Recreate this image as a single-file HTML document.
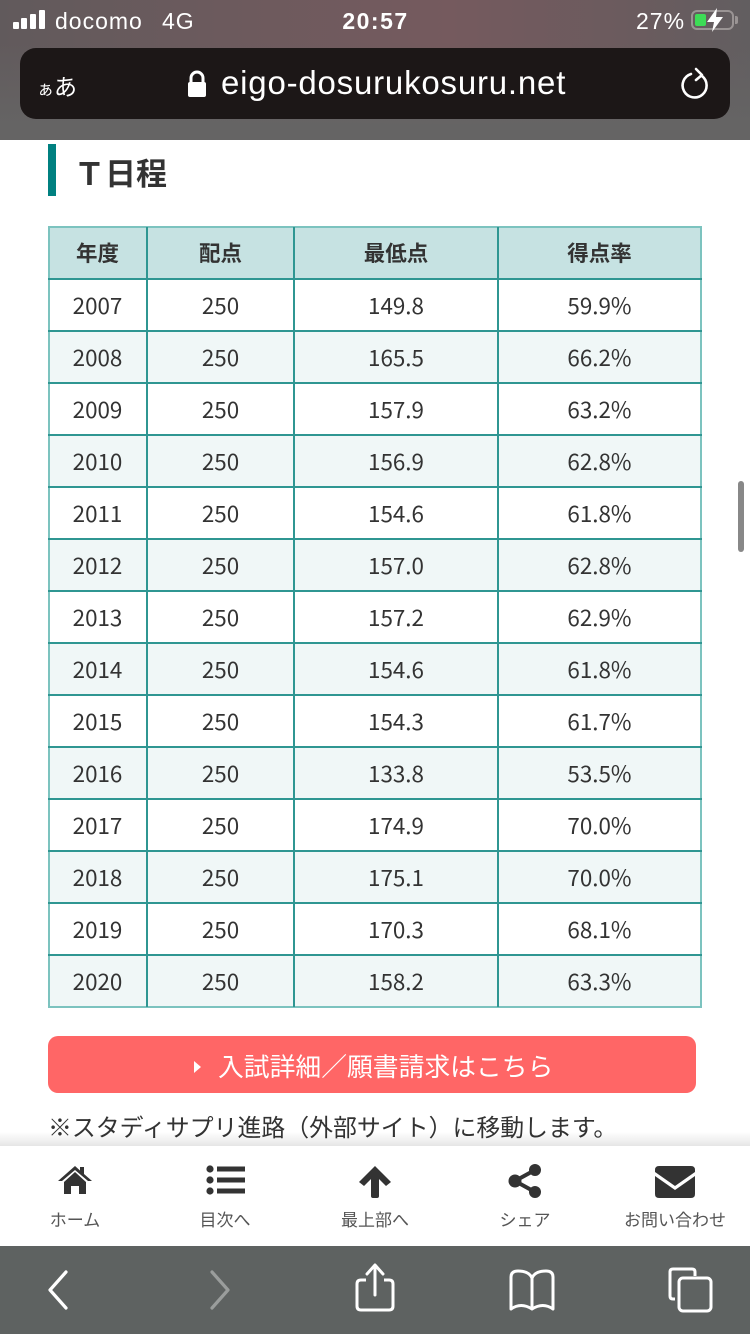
<!DOCTYPE html>
<html><head><meta charset="utf-8">
<style>
*{margin:0;padding:0;box-sizing:border-box}
html,body{width:750px;height:1334px;overflow:hidden;background:#fff}
body{position:relative;font-family:"Liberation Sans","Noto Sans CJK JP",sans-serif;color:#333}
.abs{position:absolute}
#top{left:0;top:0;width:750px;height:140px;background:linear-gradient(180deg,rgba(102,102,102,0) 0%,rgba(102,102,102,0) 30%,#656464 90%),linear-gradient(90deg,#615a5c 0%,#6c5a5d 30%,#755a5e 60%,#6a5b5e 85%,#625e60 100%)}
.st{color:#fff;font-size:23px;top:7px;line-height:28px;letter-spacing:1px}
#url{left:20px;top:48px;width:710px;height:71px;background:#1c1717;border-radius:16px}
.tbl{font-family:"Noto Sans CJK JP",sans-serif}
.cell{position:absolute;text-align:center;font-size:22.4px;color:#333;line-height:52px;height:52px}
.hd{font-size:21.5px;font-weight:bold}
.hl{position:absolute;left:48px;width:654px;height:2px;background:#2f9692}
.vl{position:absolute;top:227px;width:2px;height:780px;background:#2f9692}
.navl{position:absolute;top:1206px;width:150px;text-align:center;font-size:17px;color:#555;font-family:"Noto Sans CJK JP",sans-serif}
</style></head><body>
<div id="top" class="abs"></div>
<!-- signal -->
<div class="abs" style="left:13px;top:22px;width:6px;height:7px;background:#fff;border-radius:1px"></div>
<div class="abs" style="left:21px;top:18px;width:6px;height:11px;background:#fff;border-radius:1px"></div>
<div class="abs" style="left:30px;top:14px;width:6px;height:15px;background:#fff;border-radius:1px"></div>
<div class="abs" style="left:39px;top:10px;width:6px;height:19px;background:#fff;border-radius:1px"></div>
<div class="abs st" style="left:55px">docomo</div>
<div class="abs st" style="left:162px">4G</div>
<div class="abs st" style="left:336px;font-weight:bold;width:79px;text-align:center;letter-spacing:1.5px">20:57</div>
<div class="abs st" style="left:636px">27%</div>
<div class="abs" style="left:691px;top:10px;width:43px;height:20px;border:2px solid #9a9494;border-radius:6px"></div>
<div class="abs" style="left:735px;top:16px;width:3px;height:8px;background:#9a9494;border-radius:0 2px 2px 0"></div>
<div class="abs" style="left:695px;top:14px;width:11px;height:12px;background:#3ddc56;border-radius:2px"></div>
<svg class="abs" style="left:704px;top:7px" width="22" height="26" viewBox="0 0 22 26"><path d="M13 1 L3 15 L10 15 L8 25 L19 10 L12 10 Z" fill="#fff"/></svg>
<!-- url bar -->
<div id="url" class="abs"></div>
<div class="abs" style="left:37px;top:71px;color:#fff;font-size:23px;font-family:'Noto Sans CJK JP',sans-serif;line-height:28px"><span style="font-size:17px">ぁ</span>あ</div>
<svg class="abs" style="left:187px;top:70px" width="20" height="28" viewBox="0 0 20 28"><path d="M4 13 V8 a6 6 0 0 1 12 0 V13" fill="none" stroke="#fff" stroke-width="3"/><rect x="1" y="12" width="18" height="15" rx="2" fill="#fff"/></svg>
<div class="abs" style="left:221px;top:63px;color:#fff;font-size:33px;line-height:40px;letter-spacing:0.8px;white-space:nowrap">eigo-dosurukosuru.net</div>
<svg class="abs" style="left:680px;top:66px" width="34" height="38" viewBox="0 0 34 38"><path d="M22 10 A12 12 0 1 1 11 8" fill="none" stroke="#fff" stroke-width="2.6" stroke-linecap="round"/><path d="M16 3 L22 9 L16 14" fill="none" stroke="#fff" stroke-width="2.6" stroke-linecap="round" stroke-linejoin="round"/></svg>

<!-- heading -->
<div class="abs" style="left:48px;top:144px;width:8px;height:52px;background:#008080"></div>
<div class="abs" style="left:74px;top:151px;font-size:31px;font-weight:bold;line-height:42px;color:#333;font-family:'Noto Sans CJK JP',sans-serif;white-space:nowrap">Ｔ日程</div>

<!-- table -->
<div class="tbl">
<div class="abs" style="left:48px;top:227px;width:654px;height:52px;background:#c6e2e2"></div>
<div class="abs" style="left:48px;top:331px;width:654px;height:52px;background:#f0f7f7"></div>
<div class="abs" style="left:48px;top:435px;width:654px;height:52px;background:#f0f7f7"></div>
<div class="abs" style="left:48px;top:539px;width:654px;height:52px;background:#f0f7f7"></div>
<div class="abs" style="left:48px;top:643px;width:654px;height:52px;background:#f0f7f7"></div>
<div class="abs" style="left:48px;top:747px;width:654px;height:52px;background:#f0f7f7"></div>
<div class="abs" style="left:48px;top:851px;width:654px;height:52px;background:#f0f7f7"></div>
<div class="abs" style="left:48px;top:955px;width:654px;height:52px;background:#f0f7f7"></div>
<!-- outer borders -->
<div class="abs" style="left:48px;top:226px;width:654px;height:2px;background:#7cc3bf"></div>
<div class="abs" style="left:48px;top:226px;width:2px;height:782px;background:#7cc3bf"></div>
<div class="abs" style="left:700px;top:226px;width:2px;height:782px;background:#7cc3bf"></div>
<div class="abs" style="left:48px;top:1006px;width:654px;height:2px;background:#7cc3bf"></div>
<!-- horizontal lines -->
<div class="hl" style="top:278px"></div><div class="hl" style="top:330px"></div><div class="hl" style="top:382px"></div><div class="hl" style="top:434px"></div><div class="hl" style="top:486px"></div><div class="hl" style="top:538px"></div><div class="hl" style="top:590px"></div><div class="hl" style="top:642px"></div><div class="hl" style="top:694px"></div><div class="hl" style="top:746px"></div><div class="hl" style="top:798px"></div><div class="hl" style="top:850px"></div><div class="hl" style="top:902px"></div><div class="hl" style="top:954px"></div>
<div class="vl" style="left:146px"></div><div class="vl" style="left:293px"></div><div class="vl" style="left:497px"></div>
<!-- header -->
<div class="cell hd" style="left:48px;width:99px;top:227px">年度</div>
<div class="cell hd" style="left:147px;width:147px;top:227px">配点</div>
<div class="cell hd" style="left:294px;width:204px;top:227px">最低点</div>
<div class="cell hd" style="left:498px;width:203px;top:227px">得点率</div>
</div>
<div class="tbl">
<div class="cell" style="left:48px;width:99px;top:279px">2007</div><div class="cell" style="left:147px;width:147px;top:279px">250</div><div class="cell" style="left:294px;width:204px;top:279px">149.8</div><div class="cell" style="left:498px;width:203px;top:279px">59.9%</div>
<div class="cell" style="left:48px;width:99px;top:331px">2008</div><div class="cell" style="left:147px;width:147px;top:331px">250</div><div class="cell" style="left:294px;width:204px;top:331px">165.5</div><div class="cell" style="left:498px;width:203px;top:331px">66.2%</div>
<div class="cell" style="left:48px;width:99px;top:383px">2009</div><div class="cell" style="left:147px;width:147px;top:383px">250</div><div class="cell" style="left:294px;width:204px;top:383px">157.9</div><div class="cell" style="left:498px;width:203px;top:383px">63.2%</div>
<div class="cell" style="left:48px;width:99px;top:435px">2010</div><div class="cell" style="left:147px;width:147px;top:435px">250</div><div class="cell" style="left:294px;width:204px;top:435px">156.9</div><div class="cell" style="left:498px;width:203px;top:435px">62.8%</div>
<div class="cell" style="left:48px;width:99px;top:487px">2011</div><div class="cell" style="left:147px;width:147px;top:487px">250</div><div class="cell" style="left:294px;width:204px;top:487px">154.6</div><div class="cell" style="left:498px;width:203px;top:487px">61.8%</div>
<div class="cell" style="left:48px;width:99px;top:539px">2012</div><div class="cell" style="left:147px;width:147px;top:539px">250</div><div class="cell" style="left:294px;width:204px;top:539px">157.0</div><div class="cell" style="left:498px;width:203px;top:539px">62.8%</div>
<div class="cell" style="left:48px;width:99px;top:591px">2013</div><div class="cell" style="left:147px;width:147px;top:591px">250</div><div class="cell" style="left:294px;width:204px;top:591px">157.2</div><div class="cell" style="left:498px;width:203px;top:591px">62.9%</div>
<div class="cell" style="left:48px;width:99px;top:643px">2014</div><div class="cell" style="left:147px;width:147px;top:643px">250</div><div class="cell" style="left:294px;width:204px;top:643px">154.6</div><div class="cell" style="left:498px;width:203px;top:643px">61.8%</div>
<div class="cell" style="left:48px;width:99px;top:695px">2015</div><div class="cell" style="left:147px;width:147px;top:695px">250</div><div class="cell" style="left:294px;width:204px;top:695px">154.3</div><div class="cell" style="left:498px;width:203px;top:695px">61.7%</div>
<div class="cell" style="left:48px;width:99px;top:747px">2016</div><div class="cell" style="left:147px;width:147px;top:747px">250</div><div class="cell" style="left:294px;width:204px;top:747px">133.8</div><div class="cell" style="left:498px;width:203px;top:747px">53.5%</div>
<div class="cell" style="left:48px;width:99px;top:799px">2017</div><div class="cell" style="left:147px;width:147px;top:799px">250</div><div class="cell" style="left:294px;width:204px;top:799px">174.9</div><div class="cell" style="left:498px;width:203px;top:799px">70.0%</div>
<div class="cell" style="left:48px;width:99px;top:851px">2018</div><div class="cell" style="left:147px;width:147px;top:851px">250</div><div class="cell" style="left:294px;width:204px;top:851px">175.1</div><div class="cell" style="left:498px;width:203px;top:851px">70.0%</div>
<div class="cell" style="left:48px;width:99px;top:903px">2019</div><div class="cell" style="left:147px;width:147px;top:903px">250</div><div class="cell" style="left:294px;width:204px;top:903px">170.3</div><div class="cell" style="left:498px;width:203px;top:903px">68.1%</div>
<div class="cell" style="left:48px;width:99px;top:955px">2020</div><div class="cell" style="left:147px;width:147px;top:955px">250</div><div class="cell" style="left:294px;width:204px;top:955px">158.2</div><div class="cell" style="left:498px;width:203px;top:955px">63.3%</div>
</div>

<!-- scrollbar -->
<div class="abs" style="left:738px;top:481px;width:6px;height:71px;background:#888;border-radius:3px"></div>

<!-- button -->
<div class="abs" style="left:48px;top:1036px;width:648px;height:57px;background:#ff6666;border-radius:10px"></div>
<svg class="abs" style="left:193px;top:1060px" width="10" height="14" viewBox="0 0 10 14"><path d="M1 1 L8 7 L1 13 Z" fill="#fff"/></svg>
<div class="abs" style="left:218px;top:1048px;font-size:25.8px;line-height:36px;color:#fff;font-family:'Noto Sans CJK JP',sans-serif;white-space:nowrap">入試詳細／願書請求はこちら</div>

<div class="abs" style="left:48px;top:1108px;font-size:23.9px;line-height:36px;color:#333;font-family:'Noto Sans CJK JP',sans-serif;white-space:nowrap">※スタディサプリ進路（外部サイト）に移動します。</div>

<!-- bottom nav -->
<div class="abs" style="left:0;top:1132px;width:750px;height:14px;background:linear-gradient(180deg,rgba(0,0,0,0),rgba(0,0,0,0.1))"></div>
<div class="abs" style="left:0;top:1146px;width:750px;height:100px;background:#fff"></div>
<svg class="abs" style="left:57px;top:1164px" width="36" height="30" viewBox="0 0 36 30"><path d="M18 2 L1 17 L5 17 L18 6 L31 17 L35 17 L27 10 L27 3 L23 3 L23 6.5 Z" fill="#333"/><path d="M18 8 L7 18 L7 30 L14 30 L14 22 L22 22 L22 30 L29 30 L29 18 Z" fill="#333"/></svg>
<svg class="abs" style="left:206px;top:1165px" width="40" height="30" viewBox="0 0 40 30"><circle cx="4" cy="4" r="3.6" fill="#333"/><circle cx="4" cy="15" r="3.6" fill="#333"/><circle cx="4" cy="26" r="3.6" fill="#333"/><rect x="11" y="1.5" width="28" height="5" fill="#333"/><rect x="11" y="12.5" width="28" height="5" fill="#333"/><rect x="11" y="23.5" width="28" height="5" fill="#333"/></svg>
<svg class="abs" style="left:358px;top:1165px" width="34" height="33" viewBox="0 0 34 33"><path d="M17 1 L33 17 L28 21 L21 14 L21 31 Q21 33 19 33 L15 33 Q13 33 13 31 L13 14 L6 21 L1 17 Z" fill="#333"/></svg>
<svg class="abs" style="left:508px;top:1164px" width="34" height="34" viewBox="0 0 34 34"><circle cx="27" cy="6" r="6" fill="#333"/><circle cx="7" cy="17" r="6.5" fill="#333"/><circle cx="27" cy="28" r="6" fill="#333"/><path d="M27 6 L7 17 L27 28" fill="none" stroke="#333" stroke-width="4"/></svg>
<svg class="abs" style="left:655px;top:1166px" width="40" height="32" viewBox="0 0 40 32"><path d="M4 0 H36 Q40 0 40 4 V6 L20 20 L0 6 V4 Q0 0 4 0 Z" fill="#333"/><path d="M0 10 L20 24 L40 10 V28 Q40 32 36 32 H4 Q0 32 0 28 Z" fill="#333"/></svg>
<div class="navl" style="left:0">ホーム</div>
<div class="navl" style="left:150px">目次へ</div>
<div class="navl" style="left:300px">最上部へ</div>
<div class="navl" style="left:450px">シェア</div>
<div class="navl" style="left:600px">お問い合わせ</div>

<!-- safari bar -->
<div class="abs" style="left:0;top:1246px;width:750px;height:88px;background:#5e6261"></div>
<svg class="abs" style="left:44px;top:1268px" width="30" height="44" viewBox="0 0 30 44"><path d="M22 4 L6 22 L22 40" fill="none" stroke="#fff" stroke-width="3.2" stroke-linecap="round" stroke-linejoin="round"/></svg>
<svg class="abs" style="left:204px;top:1268px" width="30" height="44" viewBox="0 0 30 44"><path d="M8 4 L24 22 L8 40" fill="none" stroke="#9a9d9c" stroke-width="3.2" stroke-linecap="round" stroke-linejoin="round"/></svg>
<svg class="abs" style="left:354px;top:1262px" width="42" height="52" viewBox="0 0 42 52"><path d="M12 18 H7 Q3 18 3 22 V44 Q3 48 7 48 H35 Q39 48 39 44 V22 Q39 18 35 18 H30" fill="none" stroke="#fff" stroke-width="3"/><path d="M21 33 V4 M13 12 L21 3 L29 12" fill="none" stroke="#fff" stroke-width="3" stroke-linecap="round" stroke-linejoin="round"/></svg>
<svg class="abs" style="left:507px;top:1268px" width="50" height="45" viewBox="0 0 50 45"><path d="M25 10 Q22 3 11 3 Q4 3 4 9 V41 Q14 34 25 41 Q36 34 46 41 V9 Q46 3 39 3 Q28 3 25 10 Z M25 10 V41" fill="none" stroke="#fff" stroke-width="3" stroke-linejoin="round"/></svg>
<svg class="abs" style="left:667px;top:1266px" width="48" height="48" viewBox="0 0 48 48"><path d="M8 33 H6 Q3 33 3 30 V6 Q3 3 6 3 H25 Q28 3 28 6 V10" fill="none" stroke="#fff" stroke-width="3"/><rect x="12" y="12" width="32" height="33" rx="4" fill="none" stroke="#fff" stroke-width="3"/></svg>
</body></html>
